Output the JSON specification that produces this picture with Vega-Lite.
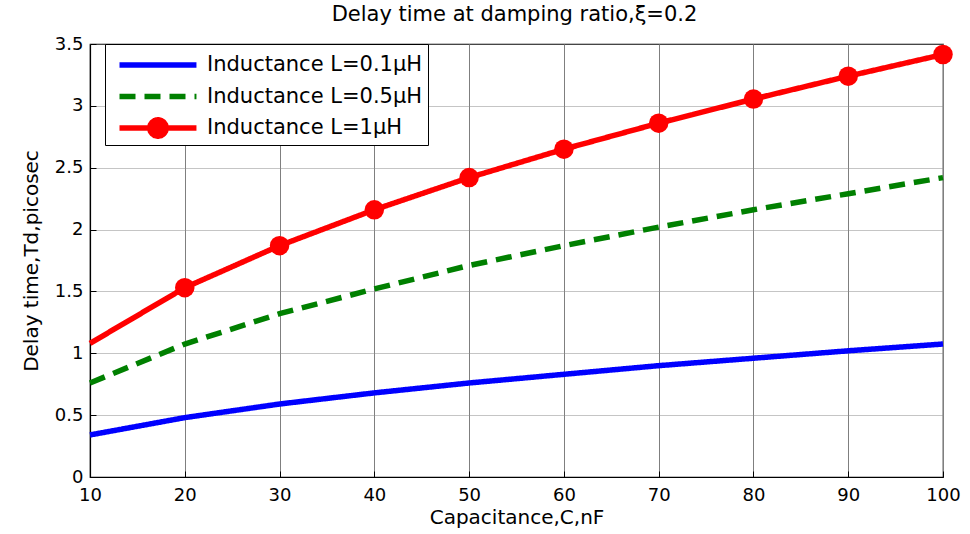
{
  "$schema": "https://vega.github.io/schema/vega-lite/v6.json",
  "autosize": {"type": "none"},
  "width": 853,
  "height": 433,
  "padding": {"left": 90, "top": 44, "right": 27, "bottom": 57},
  "background": "white",
  "config": {
    "font": "DejaVu Sans",
    "view": {"stroke": "black", "strokeWidth": 1.2}
  },
  "title": {
    "text": "Delay time at damping ratio,ξ=0.2",
    "font": "DejaVu Sans",
    "fontSize": 21,
    "fontWeight": "normal",
    "color": "black",
    "anchor": "middle",
    "frame": "group",
    "dx": -2,
    "offset": 10
  },
  "data": {
    "values": [
      {"C": 10, "Td": 0.34, "series": "Inductance L=0.1μH"},
      {"C": 20, "Td": 0.48, "series": "Inductance L=0.1μH"},
      {"C": 30, "Td": 0.59, "series": "Inductance L=0.1μH"},
      {"C": 40, "Td": 0.68, "series": "Inductance L=0.1μH"},
      {"C": 50, "Td": 0.76, "series": "Inductance L=0.1μH"},
      {"C": 60, "Td": 0.83, "series": "Inductance L=0.1μH"},
      {"C": 70, "Td": 0.9, "series": "Inductance L=0.1μH"},
      {"C": 80, "Td": 0.96, "series": "Inductance L=0.1μH"},
      {"C": 90, "Td": 1.02, "series": "Inductance L=0.1μH"},
      {"C": 100, "Td": 1.075, "series": "Inductance L=0.1μH"},
      {"C": 10, "Td": 0.76, "series": "Inductance L=0.5μH"},
      {"C": 20, "Td": 1.075, "series": "Inductance L=0.5μH"},
      {"C": 30, "Td": 1.32, "series": "Inductance L=0.5μH"},
      {"C": 40, "Td": 1.52, "series": "Inductance L=0.5μH"},
      {"C": 50, "Td": 1.71, "series": "Inductance L=0.5μH"},
      {"C": 60, "Td": 1.87, "series": "Inductance L=0.5μH"},
      {"C": 70, "Td": 2.02, "series": "Inductance L=0.5μH"},
      {"C": 80, "Td": 2.16, "series": "Inductance L=0.5μH"},
      {"C": 90, "Td": 2.29, "series": "Inductance L=0.5μH"},
      {"C": 100, "Td": 2.42, "series": "Inductance L=0.5μH"},
      {"C": 10, "Td": 1.08, "series": "Inductance L=1μH"},
      {"C": 20, "Td": 1.53, "series": "Inductance L=1μH"},
      {"C": 30, "Td": 1.87, "series": "Inductance L=1μH"},
      {"C": 40, "Td": 2.16, "series": "Inductance L=1μH"},
      {"C": 50, "Td": 2.42, "series": "Inductance L=1μH"},
      {"C": 60, "Td": 2.65, "series": "Inductance L=1μH"},
      {"C": 70, "Td": 2.86, "series": "Inductance L=1μH"},
      {"C": 80, "Td": 3.055, "series": "Inductance L=1μH"},
      {"C": 90, "Td": 3.24, "series": "Inductance L=1μH"},
      {"C": 100, "Td": 3.415, "series": "Inductance L=1μH"}
    ]
  },
  "encoding": {
    "x": {
      "field": "C",
      "type": "quantitative",
      "scale": {"domain": [10, 100], "nice": false, "zero": false},
      "axis": {
        "title": "Capacitance,C,nF",
        "values": [10, 20, 30, 40, 50, 60, 70, 80, 90, 100],
        "format": "d",
        "labelFont": "DejaVu Sans",
        "labelFontSize": 18,
        "labelColor": "black",
        "titleFont": "DejaVu Sans",
        "titleFontSize": 20,
        "titleFontWeight": "normal",
        "titleColor": "black",
        "titlePadding": 3,
        "domainColor": "black",
        "domainWidth": 1.2,
        "tickColor": "black",
        "tickSize": -6,
        "labelPadding": 15,
        "labelFlush": false,
        "grid": true,
        "gridColor": "#7f7f7f",
        "gridWidth": 1,
        "gridOpacity": 1
      }
    },
    "y": {
      "field": "Td",
      "type": "quantitative",
      "scale": {"domain": [0, 3.5], "nice": false},
      "axis": {
        "title": "Delay time,Td,picosec",
        "values": [0, 0.5, 1, 1.5, 2, 2.5, 3, 3.5],
        "format": "~g",
        "labelFont": "DejaVu Sans",
        "labelFontSize": 18,
        "labelColor": "black",
        "titleFont": "DejaVu Sans",
        "titleFontSize": 20,
        "titleFontWeight": "normal",
        "titleColor": "black",
        "titlePadding": 13,
        "domainColor": "black",
        "domainWidth": 1.2,
        "tickColor": "black",
        "tickSize": -6,
        "labelPadding": 13,
        "labelFlush": false,
        "grid": true,
        "gridColor": "#8a8a8a",
        "gridWidth": 1,
        "gridDash": [1, 1],
        "gridOpacity": 1
      }
    }
  },
  "layer": [
    {
      "mark": {"type": "line", "strokeWidth": 5.5, "strokeCap": "butt"},
      "encoding": {
        "color": {
          "field": "series",
          "type": "nominal",
          "scale": {
            "domain": ["Inductance L=0.1μH", "Inductance L=0.5μH", "Inductance L=1μH"],
            "range": ["#0000FF", "#008000", "#FF0000"]
          },
          "legend": {
            "title": null,
            "orient": "none",
            "legendX": 15,
            "legendY": 0,
            "symbolSize": 676,
            "symbolStrokeWidth": 5.5,
            "labelFont": "DejaVu Sans",
            "labelFontSize": 21,
            "labelColor": "black",
            "labelOffset": 65,
            "rowPadding": 5.5,
            "padding": 5,
            "strokeColor": "black",
            "fillColor": "white",
            "labelLimit": 400,
            "labelExpr": "datum.label + '\u00a0\u00a0\u00a0\u00a0'",
            "encode": {
              "symbols": {
                "update": {
                  "strokeJoin": {"value": "round"},
                  "shape": {"signal": "datum.value === 'Inductance L=1μH' ? 'M-0.5,0H5.42M3.095,0L3.047,0.243L2.909,0.449L2.703,0.587L2.46,0.635L2.217,0.587L2.011,0.449L1.873,0.243L1.825,0L1.873,-0.243L2.011,-0.449L2.217,-0.587L2.46,-0.635L2.703,-0.587L2.909,-0.449L3.047,-0.243Z' : 'M-0.5,0H5.42'"},
                  "fill": {"signal": "datum.value === 'Inductance L=1μH' ? '#FF0000' : 'transparent'"}
                }
              }
            }
          }
        },
        "strokeDash": {
          "field": "series",
          "type": "nominal",
          "scale": {
            "domain": ["Inductance L=0.1μH", "Inductance L=0.5μH", "Inductance L=1μH"],
            "range": [[1, 0], [16, 9], [1, 0]]
          },
          "legend": {"title": null}
        }
      }
    },
    {
      "transform": [
        {"filter": "datum.series === 'Inductance L=1μH' && datum.C >= 20"}
      ],
      "mark": {"type": "circle", "size": 380, "opacity": 1, "color": "#FF0000"}
    }
  ]
}
